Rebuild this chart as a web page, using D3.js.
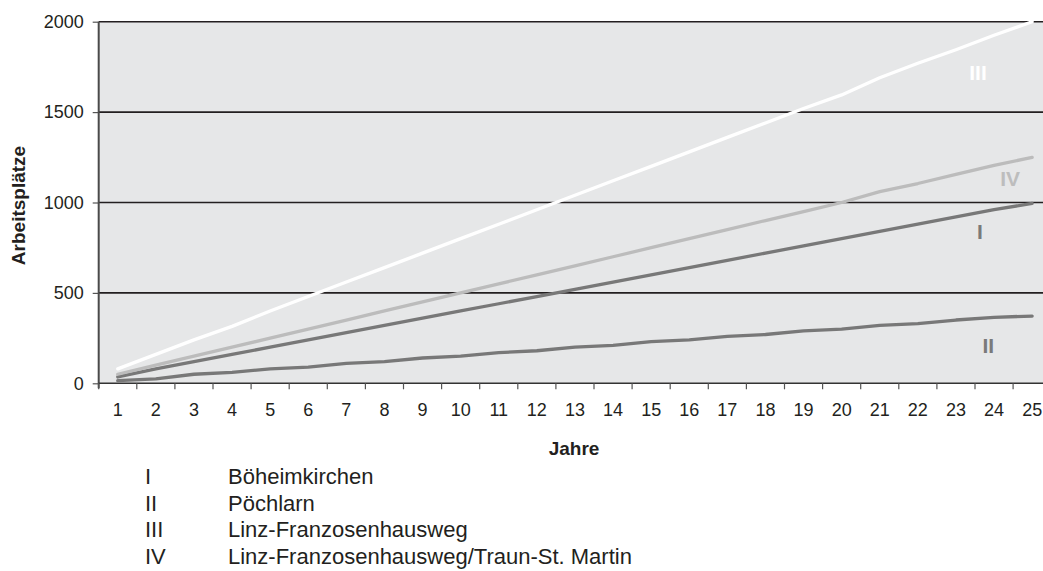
<!DOCTYPE html>
<html>
<head>
<meta charset="utf-8">
<script src="https://cdn.jsdelivr.net/npm/d3@7"></script>
<style>
  html, body { margin: 0; padding: 0; background: #ffffff; }
  svg { display: block; }
  text { font-family: "Liberation Sans", Arial, sans-serif; fill: #231f20; }
</style>
</head>
<body>
<svg id="chart" width="1043" height="571"></svg>
<script>
// Years on the x axis
const years = d3.range(1, 26);

// Jobs (Arbeitsplätze) per location and year
const boeheimkirchen = [35, 80, 120, 160, 200, 240, 280, 320, 360, 400, 440, 480, 520, 560, 600, 640, 680, 720, 760, 800, 840, 880, 920, 960, 995];
const poechlarn      = [15, 25, 50, 60, 80, 90, 110, 120, 140, 150, 170, 180, 200, 210, 230, 240, 260, 270, 290, 300, 320, 330, 350, 365, 372];
const linzFranz      = [80, 160, 240, 315, 400, 480, 560, 640, 720, 800, 880, 960, 1040, 1120, 1200, 1280, 1360, 1440, 1520, 1595, 1690, 1770, 1845, 1925, 2000];
const linzTraun      = [50, 100, 150, 200, 250, 300, 350, 400, 450, 500, 550, 600, 650, 700, 750, 800, 850, 900, 950, 1000, 1060, 1105, 1155, 1205, 1250];

const yTicks = [0, 500, 1000, 1500, 2000];

const legendNumerals = ["I", "II", "III", "IV"];
const legendNames = ["Böheimkirchen", "Pöchlarn", "Linz-Franzosenhausweg", "Linz-Franzosenhausweg/Traun-St. Martin"];

// Line styles and where each roman numeral sits (in year / value units)
const series = [
  { key: "II",  values: poechlarn,      color: "#787878", labelColor: "#7a7a7a", labelAt: [23.85, 168] },
  { key: "I",   values: boeheimkirchen, color: "#787878", labelColor: "#7a7a7a", labelAt: [23.63, 798] },
  { key: "IV",  values: linzTraun,      color: "#bcbcbc", labelColor: "#bdbdbd", labelAt: [24.42, 1091] },
  { key: "III", values: linzFranz,      color: "#ffffff", labelColor: "#ffffff", labelAt: [23.58, 1678] }
];

const svg = d3.select("#chart");

const plotLeft = 98.7, plotTop = 21.7, plotBottom = 383.3;
const band = 38.1;
const x = d3.scaleBand().domain(years).range([plotLeft, plotLeft + band * years.length]).paddingInner(0).paddingOuter(0);
const y = d3.scaleLinear().domain([0, 2000]).range([plotBottom, plotTop]);
const cx = d => x(d) + x.bandwidth() / 2;
// fractional year -> x position
const xYear = t => plotLeft + (t - 0.5) * x.bandwidth();

// Plot background
svg.append("rect")
  .attr("x", plotLeft).attr("y", plotTop)
  .attr("width", x.range()[1] - plotLeft).attr("height", plotBottom - plotTop)
  .attr("fill", "#e6e7e8");

// Horizontal gridlines
svg.append("g").selectAll("line")
  .data(yTicks.filter(v => v > 0))
  .join("line")
  .attr("x1", plotLeft).attr("x2", x.range()[1])
  .attr("y1", d => y(d)).attr("y2", d => y(d))
  .attr("stroke", "#231f20").attr("stroke-width", 1.6);

// Y axis
const yAxis = d3.axisLeft(y).tickValues(yTicks).tickFormat(d3.format("d")).tickSize(6).tickPadding(9);
const gy = svg.append("g").attr("transform", `translate(${plotLeft},0)`).call(yAxis);
gy.select(".domain").remove();
gy.selectAll(".tick line").attr("stroke", "#555").attr("stroke-width", 1.2);
gy.selectAll(".tick text").attr("font-size", 18).attr("font-family", "Liberation Sans, Arial, sans-serif").attr("fill", "#231f20");
svg.append("line")
  .attr("x1", plotLeft).attr("x2", plotLeft).attr("y1", plotTop).attr("y2", plotBottom + 5)
  .attr("stroke", "#4a4a4a").attr("stroke-width", 2);

// X axis: ticks at band boundaries, labels at band centres
const gx = svg.append("g");
gx.append("line")
  .attr("x1", plotLeft).attr("x2", x.range()[1]).attr("y1", plotBottom).attr("y2", plotBottom)
  .attr("stroke", "#333").attr("stroke-width", 1.6);
gx.selectAll("line.tick")
  .data(years)
  .join("line").attr("class", "tick")
  .attr("x1", d => x(d)).attr("x2", d => x(d))
  .attr("y1", plotBottom).attr("y2", plotBottom + 6)
  .attr("stroke", "#555").attr("stroke-width", 1.2);
gx.selectAll("text")
  .data(years)
  .join("text")
  .attr("x", d => cx(d)).attr("y", plotBottom + 33)
  .attr("text-anchor", "middle")
  .attr("font-size", 18)
  .text(d => d);

// Series lines
const line = d3.line().x((d, i) => cx(years[i])).y(d => y(d));
svg.append("g").selectAll("path")
  .data(series)
  .join("path")
  .attr("d", d => line(d.values))
  .attr("fill", "none")
  .attr("stroke", d => d.color)
  .attr("stroke-width", 3.3)
  .attr("stroke-linecap", "round")
  .attr("stroke-linejoin", "round");

// Roman numeral labels beside each line
svg.append("g").selectAll("text")
  .data(series)
  .join("text")
  .attr("x", d => xYear(d.labelAt[0]))
  .attr("y", d => y(d.labelAt[1]))
  .attr("text-anchor", "middle")
  .attr("font-size", 21)
  .attr("font-weight", "bold")
  .style("fill", d => d.labelColor)
  .text(d => d.key);

// Axis titles
svg.append("text")
  .attr("transform", `translate(25,${(plotTop + plotBottom) / 2 + 3}) rotate(-90)`)
  .attr("text-anchor", "middle")
  .attr("font-size", 19)
  .attr("font-weight", "bold")
  .text("Arbeitsplätze");

svg.append("text")
  .attr("x", 574).attr("y", 455)
  .attr("text-anchor", "middle")
  .attr("font-size", 19)
  .attr("font-weight", "bold")
  .text("Jahre");

// Legend
const legend = svg.append("g");
legend.selectAll("text.num")
  .data(legendNumerals)
  .join("text").attr("class", "num")
  .attr("x", 145).attr("y", (d, i) => 484 + i * 26.7)
  .attr("font-size", 22)
  .text(d => d);
legend.selectAll("text.name")
  .data(legendNames)
  .join("text").attr("class", "name")
  .attr("x", 228).attr("y", (d, i) => 484 + i * 26.7)
  .attr("font-size", 22)
  .text(d => d);
</script>
</body>
</html>
